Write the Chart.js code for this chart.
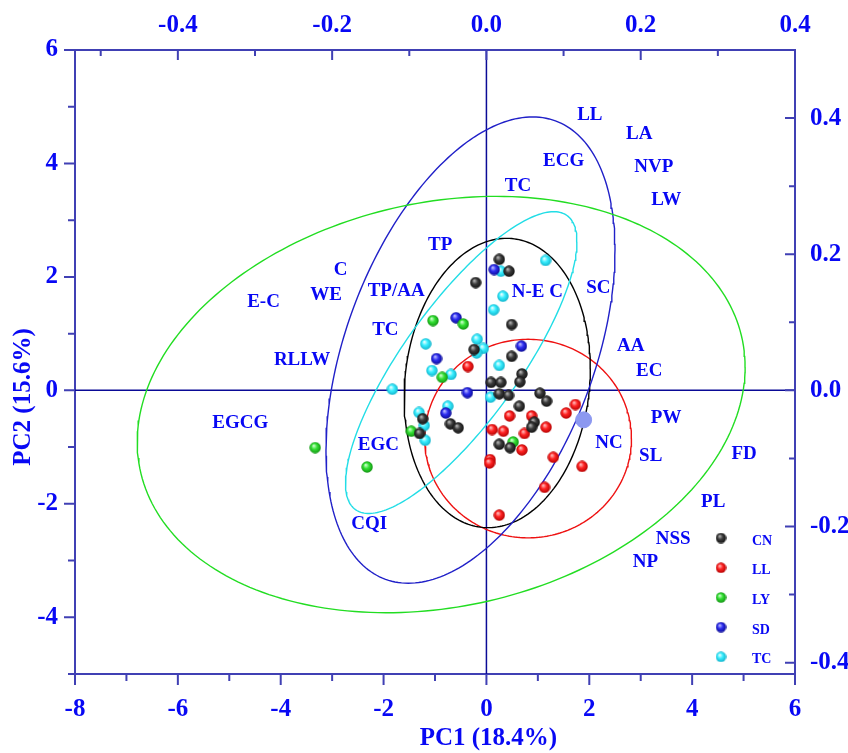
<!DOCTYPE html>
<html>
<head>
<meta charset="utf-8">
<script src="https://cdn.jsdelivr.net/npm/chart.js@4.4.1/dist/chart.umd.min.js"></script>
<style>
  body { margin: 0; background: #fff; }
  #wrap { width: 848px; height: 753px; }
</style>
</head>
<body>
<div id="wrap"><canvas id="pca" width="848" height="753"></canvas></div>
<script>
// scores (PC1, PC2) per group
var groupNames = ["CN", "LL", "LY", "SD", "TC"];
var cnX = [0.25, 0.44, -0.21, 0.49, -0.24, 0.49, 0.69, 0.09, 0.28, 0.65, 1.04, 0.25, 0.43, 1.17, 0.64, 0.93, 0.88, -0.70, -0.55, -1.24, -1.30, 0.25, 0.46];
var cnY = [2.31, 2.10, 1.90, 1.16, 0.72, 0.60, 0.29, 0.14, 0.14, 0.15, -0.05, -0.06, -0.09, -0.19, -0.28, -0.56, -0.65, -0.59, -0.66, -0.50, -0.76, -0.95, -1.01];
var llX = [-0.36, 1.73, 1.55, 0.45, 0.88, 1.16, 0.11, 0.33, 0.74, 0.69, 1.30, 0.07, 0.06, 1.86, 1.13, 0.25];
var llY = [0.42, -0.25, -0.40, -0.45, -0.45, -0.65, -0.69, -0.72, -0.76, -1.05, -1.18, -1.22, -1.28, -1.34, -1.71, -2.20];
var lyX = [-3.33, -2.32, -1.46, -1.04, -0.45, -0.86, 0.52];
var lyY = [-1.01, -1.35, -0.72, 1.23, 1.17, 0.23, -0.91];
var sdX = [0.15, -0.59, 0.68, -0.97, -0.37, -0.79];
var sdY = [2.13, 1.28, 0.78, 0.56, -0.04, -0.40];
var tcX = [1.15, 0.28, 0.32, 0.14, -0.18, -1.18, -0.06, -0.19, 0.25, -1.06, -0.69, -1.83, 0.08, -0.75, -1.31, -1.19, -1.21];
var tcY = [2.29, 2.10, 1.66, 1.42, 0.90, 0.82, 0.74, 0.66, 0.44, 0.35, 0.28, 0.02, -0.12, -0.28, -0.39, -0.88, -0.62];
var extraX = [1.89];
var extraY = [-0.52];

// confidence ellipses: centre, half width, half height, correlation
var ellNames = ["LY", "SD", "TC", "CN", "LL"];
var ellCx = [-0.88, -0.31, -0.49, 0.21, 0.81];
var ellCy = [-0.25, 0.71, 0.49, 0.13, -0.85];
var ellW = [5.91, 2.81, 2.25, 1.81, 2.01];
var ellH = [3.67, 4.11, 2.66, 2.55, 1.75];
var ellR = [0.18, 0.43, 0.80, 0.10, 0.0];

// loadings (top / right axes)
var varNames = ["LL", "LA", "ECG", "NVP", "TC", "LW", "TP", "C", "WE", "E-C", "TP/AA", "N-E C", "SC", "TC", "RLLW", "AA", "EC", "EGCG", "PW", "NC", "EGC", "SL", "FD", "PL", "CQI", "NSS", "NP"];
var loadX = [0.134, 0.198, 0.100, 0.217, 0.041, 0.233, -0.060, -0.189, -0.208, -0.289, -0.117, 0.066, 0.145, -0.131, -0.239, 0.187, 0.211, -0.319, 0.233, 0.159, -0.140, 0.213, 0.334, 0.294, -0.152, 0.242, 0.206];
var loadY = [0.404, 0.376, 0.337, 0.328, 0.300, 0.279, 0.213, 0.176, 0.140, 0.129, 0.146, 0.145, 0.150, 0.088, 0.045, 0.065, 0.028, -0.048, -0.041, -0.077, -0.081, -0.097, -0.093, -0.164, -0.196, -0.219, -0.253];

// ticks
var xMajor = [-8, -6, -4, -2, 0, 2, 4, 6];
var xMinor = [-7, -5, -3, -1, 1, 3, 5];
var yMajor = [-4, -2, 0, 2, 4, 6];
var yMinor = [-5, -3, -1, 1, 3, 5];
var x2Major = [-0.4, -0.2, 0, 0.2, 0.4];
var x2Minor = [-0.5, -0.3, -0.1, 0.1, 0.3];
var y2Major = [-0.4, -0.2, 0, 0.2, 0.4];
var y2Minor = [-0.3, -0.1, 0.1, 0.3];

var TXT = "#0808f4";
var FRAME = "#4040b4";
var FONT = "Liberation Serif";

function sphere(c1, c2, c3, d) {
  var cv = document.createElement("canvas");
  cv.width = d; cv.height = d;
  var g = cv.getContext("2d");
  var r = d / 2;
  var grad = g.createRadialGradient(r * 0.75, r * 0.65, r * 0.05, r, r, r);
  grad.addColorStop(0, c1);
  grad.addColorStop(0.45, c2);
  grad.addColorStop(1, c3);
  g.fillStyle = grad;
  g.beginPath();
  g.arc(r, r, r - 0.3, 0, Math.PI * 2);
  g.fill();
  return cv;
}

var balls = {
  CN: sphere("#b8b8b8", "#3a3a3a", "#101010", 12),
  LL: sphere("#ffc0c0", "#ff2222", "#b00000", 12),
  LY: sphere("#d0ffd0", "#33e033", "#109010", 12),
  SD: sphere("#c0c0ff", "#2d2df0", "#0a0a90", 12),
  TC: sphere("#f0ffff", "#38eeff", "#10b0c8", 12)
};
var ballsSmall = {
  CN: sphere("#b8b8b8", "#3a3a3a", "#101010", 11),
  LL: sphere("#ffc0c0", "#ff2222", "#b00000", 11),
  LY: sphere("#d0ffd0", "#33e033", "#109010", 11),
  SD: sphere("#c0c0ff", "#2d2df0", "#0a0a90", 11),
  TC: sphere("#f0ffff", "#38eeff", "#10b0c8", 11)
};
var ellColors = { LY: "#22dd22", SD: "#2020c8", TC: "#22dde6", CN: "#000000", LL: "#ee1111" };

function pts(xs, ys) {
  var out = [];
  for (var i = 0; i < xs.length; i++) out.push({ x: xs[i], y: ys[i] });
  return out;
}

function ellipse(i) {
  var out = [];
  var s = Math.sqrt(1 - ellR[i] * ellR[i]);
  for (var k = 0; k <= 240; k++) {
    var t = k / 240 * Math.PI * 2;
    out.push({
      x: ellCx[i] + ellW[i] * Math.cos(t),
      y: ellCy[i] + ellH[i] * (ellR[i] * Math.cos(t) + s * Math.sin(t))
    });
  }
  return out;
}

var datasets = [];
for (var e = 0; e < ellNames.length; e++) {
  datasets.push({
    type: "line",
    label: ellNames[e] + " ellipse",
    data: ellipse(e),
    borderColor: ellColors[ellNames[e]],
    borderWidth: 1.4,
    pointRadius: 0,
    fill: false,
    tension: 0,
    order: 10
  });
}
var groupX = [cnX, llX, lyX, sdX, tcX];
var groupY = [cnY, llY, lyY, sdY, tcY];
for (var g = 0; g < groupNames.length; g++) {
  datasets.push({
    label: groupNames[g],
    data: pts(groupX[g], groupY[g]),
    pointStyle: balls[groupNames[g]],
    pointRadius: 6,
    order: 1
  });
}
datasets.push({
  label: "centre",
  data: pts(extraX, extraY),
  pointStyle: "circle",
  pointRadius: 8,
  backgroundColor: "#8c98f0",
  borderColor: "#8c98f0",
  order: 0
});

function drawTicks(ctx, scale, list, len, side, area) {
  ctx.beginPath();
  list.forEach(function (v) {
    var p = scale.getPixelForValue(v);
    if (side === "bottom") { ctx.moveTo(p, area.bottom); ctx.lineTo(p, area.bottom + len); }
    if (side === "top") { ctx.moveTo(p, area.top); ctx.lineTo(p, area.top + len); }
    if (side === "left") { ctx.moveTo(area.left, p); ctx.lineTo(area.left - len, p); }
    if (side === "right") { ctx.moveTo(area.right, p); ctx.lineTo(area.right - len, p); }
  });
  ctx.stroke();
}

var overlay = {
  id: "overlay",
  beforeDatasetsDraw: function (chart) {
    var ctx = chart.ctx, a = chart.chartArea;
    var x0 = chart.scales.x.getPixelForValue(0);
    var y0 = chart.scales.y.getPixelForValue(0);
    ctx.save();
    ctx.strokeStyle = "#0a0a96";
    ctx.lineWidth = 1.5;
    ctx.beginPath();
    ctx.moveTo(x0, a.top); ctx.lineTo(x0, a.bottom);
    ctx.moveTo(a.left, y0); ctx.lineTo(a.right, y0);
    ctx.stroke();
    ctx.restore();
  },
  afterDatasetsDraw: function (chart) {
    var ctx = chart.ctx, a = chart.chartArea, s = chart.scales;
    ctx.save();
    // loading labels
    ctx.fillStyle = TXT;
    ctx.font = "bold 19px '" + FONT + "'";
    ctx.textAlign = "center";
    ctx.textBaseline = "middle";
    for (var i = 0; i < varNames.length; i++) {
      ctx.fillText(varNames[i], s.x2.getPixelForValue(loadX[i]), s.y2.getPixelForValue(loadY[i]));
    }
    // tick marks
    ctx.strokeStyle = FRAME;
    ctx.lineWidth = 2;
    drawTicks(ctx, s.x, xMajor, 11, "bottom", a);
    drawTicks(ctx, s.x, xMinor, 7, "bottom", a);
    drawTicks(ctx, s.y, yMajor, 11, "left", a);
    drawTicks(ctx, s.y, yMinor, 7, "left", a);
    drawTicks(ctx, s.x2, x2Major, 10, "top", a);
    drawTicks(ctx, s.x2, x2Minor, 6, "top", a);
    drawTicks(ctx, s.y2, y2Major, 10, "right", a);
    drawTicks(ctx, s.y2, y2Minor, 6, "right", a);
    // legend
    ctx.font = "bold 14px '" + FONT + "'";
    ctx.textAlign = "left";
    for (var k = 0; k < groupNames.length; k++) {
      var ly = a.bottom - 136 + k * 29.7;
      var img = ballsSmall[groupNames[k]];
      ctx.drawImage(img, a.right - 74 - img.width / 2, ly - img.height / 2);
      ctx.fillText(groupNames[k], a.right - 43, ly + 3);
    }
    // axis titles
    ctx.font = "bold 25px '" + FONT + "'";
    ctx.textAlign = "center";
    ctx.fillText("PC1 (18.4%)", s.x.getPixelForValue(0) + 2, 739);
    ctx.translate(24, 397);
    ctx.rotate(-Math.PI / 2);
    ctx.fillText("PC2 (15.6%)", 0, 0);
    ctx.restore();
  }
};

function fixTicks(list) {
  return function (scale) {
    scale.ticks = list.map(function (v) { return { value: v }; });
  };
}

var tickFont = { family: FONT, size: 25, weight: "bold" };

new Chart(document.getElementById("pca"), {
  type: "scatter",
  data: { datasets: datasets },
  options: {
    responsive: false,
    animation: false,
    layout: { padding: 0 },
    plugins: { legend: { display: false }, tooltip: { enabled: false } },
    scales: {
      x: {
        type: "linear", position: "bottom", min: -8, max: 6,
        afterBuildTicks: fixTicks(xMajor),
        afterFit: function (sc) { sc.height = 79; },
        ticks: { color: TXT, font: tickFont, padding: 21, autoSkip: false, maxRotation: 0,
          callback: function (v) { return String(v); } },
        grid: { display: false, drawTicks: false },
        border: { display: true, color: FRAME, width: 2 }
      },
      x2: {
        type: "linear", position: "top", axis: "x", min: -8 / 15, max: 0.4,
        afterBuildTicks: fixTicks(x2Major),
        afterFit: function (sc) { sc.height = 50; },
        ticks: { color: TXT, font: tickFont, padding: 9, autoSkip: false, maxRotation: 0,
          callback: function (v) { return Number(v).toFixed(1); } },
        grid: { display: false, drawTicks: false },
        border: { display: true, color: FRAME, width: 2 }
      },
      y: {
        type: "linear", position: "left", min: -5, max: 6,
        afterBuildTicks: fixTicks(yMajor),
        afterFit: function (sc) { sc.width = 75; },
        ticks: { color: TXT, font: tickFont, padding: 17, autoSkip: false,
          callback: function (v) { return String(v); } },
        grid: { display: false, drawTicks: false },
        border: { display: true, color: FRAME, width: 2 }
      },
      y2: {
        type: "linear", position: "right", axis: "y", min: -5 / 12, max: 0.5,
        afterBuildTicks: fixTicks(y2Major),
        afterFit: function (sc) { sc.width = 53; },
        ticks: { color: TXT, font: tickFont, padding: 15, autoSkip: false,
          callback: function (v) { return Number(v).toFixed(1); } },
        grid: { display: false, drawTicks: false },
        border: { display: true, color: FRAME, width: 2 }
      }
    }
  },
  plugins: [overlay]
});
</script>
</body>
</html>
